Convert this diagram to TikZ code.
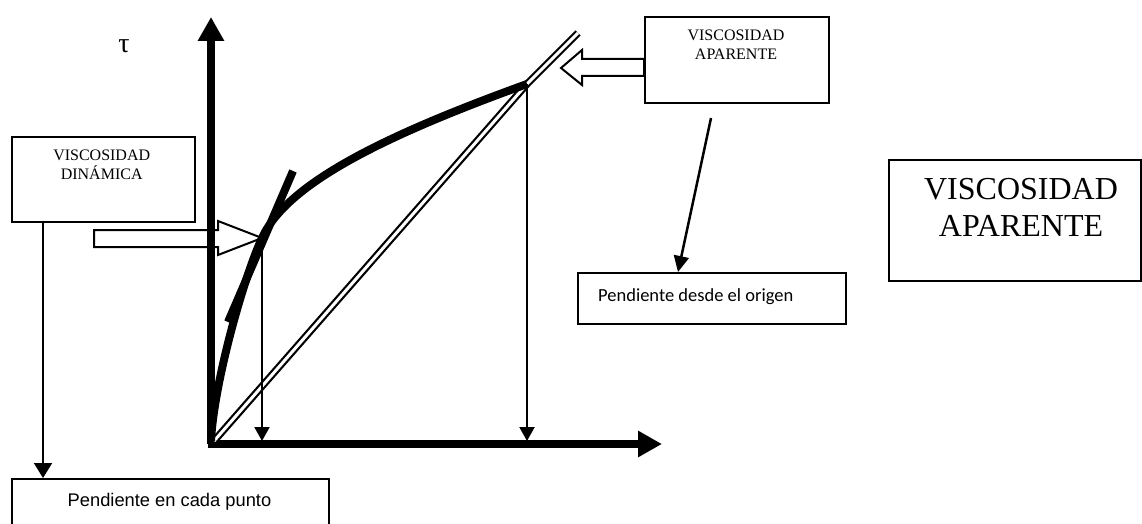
\documentclass[tikz,border=0pt]{standalone}
\usepackage{fontspec}
\setmainfont{Liberation Serif}
\newfontfamily\arialfont{Liberation Sans}
\newfontfamily\calibrifont{Carlito}
\usetikzlibrary{arrows.meta}

\begin{document}
\begin{tikzpicture}[x=1pt,y=-1pt,
  box/.style={draw, line width=2pt, inner sep=0pt, anchor=north west},
  thinarrow/.style={line width=2pt, -{Triangle[length=14pt,width=15pt]}},
  axisline/.style={line width=7.5pt, -{Triangle[length=24pt,width=25pt]}},
  hollow/.style={draw, fill=white, line width=2pt, line join=miter},
  smalltitle/.style={font=\fontsize{16}{18.6}\selectfont, align=center, inner sep=0pt, anchor=north},
  thick curve/.style={line width=8pt},
]
\useasboundingbox (0,0) rectangle (1142,524);

% boxes
\node[box, minimum width=183pt, minimum height=85pt] (vd) at (11,136) {};
\node[smalltitle] (vdtext) at (101.7,150) {VISCOSIDAD\\DINÁMICA};

\node[box, minimum width=184pt, minimum height=86pt] (va) at (644,16) {};
\node[smalltitle] (vatext) at (736,30) {VISCOSIDAD\\APARENTE};

\node[box, minimum width=252pt, minimum height=121pt] (big) at (888,159) {};
\node[font=\fontsize{32}{36.7}\selectfont, align=center, inner sep=0pt, anchor=north] (bigtext) at (1021,178.3) {VISCOSIDAD\\APARENTE};

\node[box, minimum width=268pt, minimum height=51pt] (pdo) at (577,272) {};
\node[font=\calibrifont\fontsize{18.5}{22}\selectfont, anchor=base west, inner sep=0pt] (pdotext) at (598,301.7) {Pendiente desde el origen};

\node[box, minimum width=317pt, minimum height=70pt] (pec) at (11,478) {};
\node[font=\arialfont\fontsize{18.3}{22}\selectfont, anchor=base, inner sep=0pt] (pectext) at (169.5,506) {Pendiente en cada punto};

% axis label
\node[font=\fontsize{28}{30}\selectfont, anchor=base, inner sep=0pt] (tau) at (124,53) {τ};

% key points of the flow curve
\coordinate (O) at (211,441);
\coordinate (T) at (262,238);
\coordinate (A) at (527,84);
\coordinate (vafoot) at (711,118);

% hollow block arrows
\draw[hollow] (94,230) -- (218,230) -- (218,221) -- (T) -- (218,255) -- (218,247) -- (94,247) -- cycle;
\draw[hollow] (644,59) -- (582,59) -- (582,50) -- (561,68) -- (582,85) -- (582,76) -- (644,76) -- cycle;

% axes
\draw[axisline] (211,444) -- (211,17);
\draw[axisline] (208,444) -- (662,444);

% secant from the origin
\draw[double, line width=2.2pt, double distance=3pt] (214,441) -- (A) -- (578,33);

% flow curve and its tangent
\draw[thick curve] (O) .. controls (214,381) and (245,274) .. (T)
                       .. controls (287,183) and (386,135) .. (A);
\draw[thick curve] (293,171) -- (228,322);

% projections onto the shear-rate axis
\draw[thinarrow] (T) -- (T |- O);
\draw[thinarrow] (A) -- (A |- O);

% links to the explanation boxes
\draw[line width=2pt, -{Triangle[length=15pt,width=18pt]}] ([xshift=32pt]vd.south west) -- ([xshift=32pt]pec.north west);
\draw[line width=2.5pt, -{Triangle[length=16pt,width=15pt]}] (vafoot) -- ([xshift=101pt]pdo.north west);
\end{tikzpicture}
\end{document}
